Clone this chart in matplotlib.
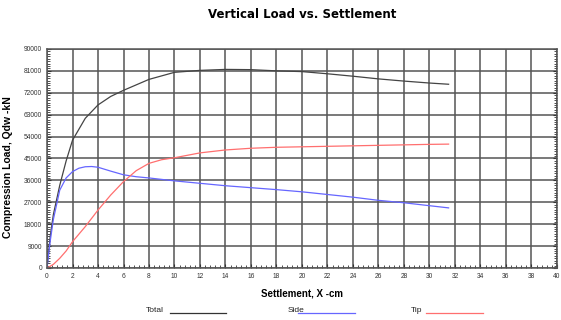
import matplotlib
matplotlib.use("Agg")
import matplotlib.pyplot as plt
from matplotlib.lines import Line2D
from matplotlib.ticker import MultipleLocator
import numpy as np

plt.rcParams['font.family'] = ['Liberation Sans', 'DejaVu Sans']

# Data (load in kN, settlement in cm)
x_total = [0, 0.25, 0.5, 1, 1.5, 2, 3, 4, 5, 6, 8, 10, 12, 14, 16, 18, 20, 22, 24, 26, 28, 30, 31.5]
total = [0, 13000, 22000, 34000, 44000, 52500, 61500, 67000, 70500, 73000, 77500, 80400, 81200,
         81600, 81500, 81000, 80700, 79800, 78800, 77700, 76800, 76000, 75500]

x_side = [0, 0.25, 0.5, 1, 1.5, 2, 2.5, 3, 3.5, 4, 5, 6, 7, 8, 10, 12, 14, 16, 18, 20, 22, 24,
          26, 28, 30, 31.5]
side = [0, 11000, 20000, 32000, 37000, 39600, 41000, 41600, 41700, 41400, 39800, 38300, 37500,
        37000, 35800, 34800, 33800, 33000, 32200, 31300, 30200, 29100, 27800, 26800, 25600, 24700]

x_tip = [0, 0.5, 1, 1.5, 2, 3, 4, 5, 6, 7, 8, 9, 10, 12, 14, 16, 18, 20, 22, 24, 26, 28, 30, 31.5]
tip = [0, 1500, 4000, 7000, 10800, 17000, 23800, 30000, 35500, 40000, 43000, 44500, 45300,
       47300, 48500, 49200, 49600, 49800, 50000, 50200, 50400, 50600, 50800, 50900]

x_ticks = list(range(0, 41, 2))
y_ticks = list(range(0, 90001, 9000))

c_total = '#444444'
c_side = '#6666ff'
c_tip = '#ff6f6f'

fig = plt.figure(figsize=(5.61, 3.2), dpi=100)
ax = fig.add_axes([0.0838, 0.1625, 0.909, 0.6845])

ax.plot(x_total, total, color=c_total, lw=0.9)
ax.plot(x_side, side, color=c_side, lw=0.9)
ax.plot(x_tip, tip, color=c_tip, lw=0.9)

ax.set_xlim(0, 40)
ax.set_ylim(0, 90000)
ax.set_xticks(x_ticks)
ax.set_yticks(y_ticks)
ax.set_xticklabels([str(v) for v in x_ticks])
ax.set_yticklabels([str(v) for v in y_ticks])
ax.xaxis.set_minor_locator(MultipleLocator(0.4))
ax.yaxis.set_minor_locator(MultipleLocator(1000))
ax.tick_params(which='both', direction='in', labelsize=4.8, colors='#333333',
               right=True, top=False)
ax.tick_params(which='major', length=3, width=0.8)
ax.tick_params(which='minor', length=2.5, width=0.6)
ax.grid(True, which='major', color='#555555', lw=1.1)
for s in ax.spines.values():
    s.set_color('#555555')
    s.set_linewidth(1.1)

ax.set_xlabel('Settlement, X -cm', fontsize=7, fontweight='bold', labelpad=6)
ax.set_ylabel('Compression Load, Qdw -kN', fontsize=7.5, fontweight='bold')
ax.yaxis.set_label_coords(-0.067, 0.46)
fig.text(302 / 561, 1 - 14 / 320, 'Vertical Load vs. Settlement', ha='center', va='center',
         fontsize=8.5, fontweight='bold', family='DejaVu Sans')

# Legend at bottom
W, H = 561, 320
def legend_item(label, tx, x0, x1, color):
    fig.text(tx / W, 1 - 311 / H, label, ha='left', va='center', fontsize=6, color='#222222')
    fig.add_artist(Line2D([x0 / W, x1 / W], [1 - 313 / H, 1 - 313 / H], color=color, lw=0.9,
                          transform=fig.transFigure))

legend_item('Total', 146, 170, 226, '#333333')
legend_item('Side', 288, 298, 355, c_side)
legend_item('Tip', 411, 426, 483, c_tip)

fig.savefig('out.png', dpi=100)
